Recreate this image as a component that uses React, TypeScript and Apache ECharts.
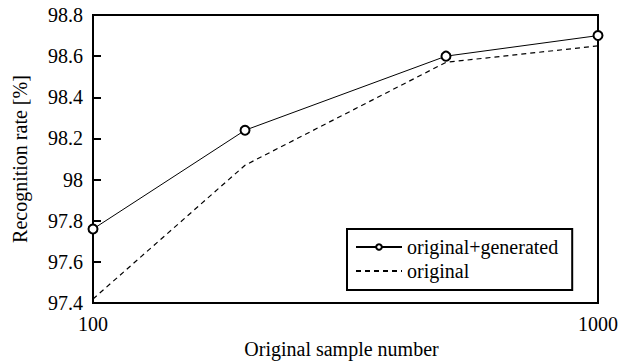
import React, { useEffect, useRef } from "react";
import * as echarts from "echarts";

const sampleNumbers = [100, 200, 500, 1000];
const withGenerated = [97.76, 98.24, 98.6, 98.7];
const originalOnly = [97.42, 98.07, 98.57, 98.65];
const yTicks = ["97.4", "97.6", "97.8", "98", "98.2", "98.4", "98.6", "98.8"];
const xTicks = ["100", "1000"];
const seriesNames = ["original+generated", "original"];

const FONT = "Liberation Serif";

export default function App() {
  const ref = useRef<HTMLDivElement>(null);
  useEffect(() => {
    if (!ref.current) return;
    const chart = echarts.init(ref.current, undefined, { renderer: "svg" });
    chart.setOption({
      animation: false,
      backgroundColor: "#fff",
      textStyle: { fontFamily: FONT, color: "#000" },
      grid: {
        left: 93,
        right: 25,
        top: 15,
        bottom: 47,
        show: true,
        borderColor: "#000",
        borderWidth: 2,
        backgroundColor: "transparent",
      },
      legend: {
        orient: "vertical",
        left: 347,
        top: 229,
        borderColor: "#000",
        borderWidth: 2,
        padding: [8, 14, 9, 8],
        itemGap: 4,
        itemWidth: 46,
        itemHeight: 7,
        textStyle: { fontFamily: FONT, fontSize: 20, color: "#000", lineHeight: 20 },
        data: [
          { name: seriesNames[0] },
          { name: seriesNames[1], itemStyle: { opacity: 0 } },
        ],
      },
      xAxis: {
        type: "log",
        logBase: 10,
        min: 100,
        max: 1000,
        name: "Original sample number",
        nameLocation: "middle",
        nameGap: 26,
        nameTextStyle: { fontFamily: FONT, fontSize: 20, color: "#000", padding: [0, 8, 0, 0] },
        axisLine: { lineStyle: { color: "#000", width: 2 } },
        axisTick: { show: false },
        splitLine: { show: false },
        axisLabel: {
          margin: 11,
          fontFamily: FONT,
          fontSize: 20,
          color: "#000",
          formatter: (v: number) => {
            const s = String(Math.round(v));
            return xTicks.includes(s) ? s : "";
          },
        },
      },
      yAxis: {
        type: "value",
        min: 97.4,
        max: 98.8,
        interval: 0.2,
        name: "Recognition rate [%]",
        nameLocation: "middle",
        nameGap: 63,
        nameTextStyle: { fontFamily: FONT, fontSize: 20, color: "#000" },
        axisLine: { lineStyle: { color: "#000", width: 2 } },
        axisTick: { inside: true, length: 8, lineStyle: { color: "#000", width: 2 } },
        splitLine: { show: false },
        axisLabel: {
          margin: 10,
          fontFamily: FONT,
          fontSize: 20,
          color: "#000",
          formatter: (v: number) => {
            const s = parseFloat(v.toFixed(1)).toString();
            return yTicks.includes(s) ? s : "";
          },
        },
      },
      series: [
        {
          name: seriesNames[0],
          type: "line",
          data: sampleNumbers.map((x, i) => [x, withGenerated[i]]),
          symbol: "emptyCircle",
          symbolSize: 9,
          clip: false,
          lineStyle: { color: "#000", width: 1 },
          itemStyle: { color: "#000", borderColor: "#000", borderWidth: 1 },
          z: 3,
        },
        {
          name: seriesNames[1],
          type: "line",
          data: sampleNumbers.map((x, i) => [x, originalOnly[i]]),
          symbol: "none",
          showSymbol: false,
          clip: false,
          lineStyle: { color: "#000", width: 1.2, type: [5, 4] },
          itemStyle: { color: "#000" },
          z: 2,
        },
      ],
    });
    return () => chart.dispose();
  }, []);
  return (
    <div
      ref={ref}
      style={{ position: "fixed", left: 0, top: 0, width: 623, height: 364, background: "#fff" }}
    />
  );
}
